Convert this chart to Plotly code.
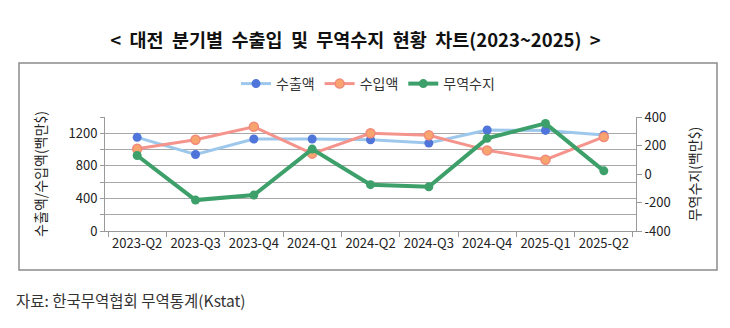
import plotly.graph_objects as go

quarters = ["2023-Q2", "2023-Q3", "2023-Q4", "2024-Q1", "2024-Q2",
            "2024-Q3", "2024-Q4", "2025-Q1", "2025-Q2"]
exports = [1150, 940, 1130, 1130, 1120, 1080, 1240, 1235, 1180]
imports = [1010, 1120, 1280, 950, 1200, 1175, 990, 875, 1155]
balance = [130, -183, -148, 175, -75, -90, 250, 355, 22]

left_ticks = [0, 200, 400, 600, 800, 1000, 1200, 1400]
left_labels = ["0", "", "400", "", "800", "", "1200", ""]
right_ticks = [-400, -200, 0, 200, 400]
right_labels = ["-400", "-200", "0", "200", "400"]

FONT = "Noto Sans CJK KR"
TXT = "#222222"

fig = go.Figure()
fig.add_trace(go.Scatter(
    x=quarters, y=exports, name="수출액", mode="lines+markers",
    line=dict(color="#9DC8EC", width=3),
    marker=dict(color="#4F75DA", size=9)))
fig.add_trace(go.Scatter(
    x=quarters, y=imports, name="수입액", mode="lines+markers",
    line=dict(color="#F4948C", width=3),
    marker=dict(color="#F7A46F", size=9, line=dict(color="#F08A7A", width=1.5))))
fig.add_trace(go.Scatter(
    x=quarters, y=balance, name="무역수지", mode="lines+markers", yaxis="y2",
    line=dict(color="#3DA06A", width=4),
    marker=dict(color="#3DA06A", size=9)))

W, H = 730, 328
L, R, T, B = 105, 94, 117, 97
pw, ph = W - L - R, H - T - B

def px(x):
    return (x - L) / pw

def py(y):
    return (H - B - y) / ph

fig.update_layout(
    width=W, height=H,
    margin=dict(l=L, r=R, t=T, b=B, autoexpand=False),
    paper_bgcolor="white", plot_bgcolor="white",
    font=dict(family=FONT, color=TXT, size=13),
    title=dict(text="<b>&lt;  대전  분기별  수출입  및  무역수지  현황  차트(2023~2025)  &gt;</b>",
               x=0.487, xanchor="center", y=1 - 41 / H, yanchor="middle",
               font=dict(size=18.5, color="#111111", family=FONT)),
    showlegend=True,
    legend=dict(orientation="h", x=px(368), xanchor="center", y=py(84), yanchor="middle",
                font=dict(size=14, color="#333333"), itemwidth=30, tracegroupgap=0,
                bgcolor="rgba(0,0,0,0)"),
    xaxis=dict(type="category", showline=True, linecolor="#9a9a9a", linewidth=1,
               ticks="outside", tickson="boundaries", ticklen=5, tickcolor="#9a9a9a",
               tickangle=0, showgrid=False, tickfont=dict(size=13, color=TXT),
               fixedrange=True),
    yaxis=dict(range=[0, 1400], tickvals=left_ticks, ticktext=left_labels,
               showline=True, linecolor="#9a9a9a", ticks="outside", ticklen=4,
               tickcolor="#9a9a9a", showgrid=True, gridcolor="#a8a8a8", gridwidth=1,
               zeroline=False, tickfont=dict(size=13, color=TXT),
               title=dict(text="수출액/수입액(백만$)", font=dict(size=14, color=TXT), standoff=18)),
    yaxis2=dict(range=[-400, 400], tickvals=right_ticks, ticktext=right_labels,
                overlaying="y", side="right",
                showline=True, linecolor="#9a9a9a", ticks="outside", ticklen=5,
                tickcolor="#9a9a9a", showgrid=False, zeroline=False,
                tickfont=dict(size=13, color=TXT),
                title=dict(text="무역수지(백만$)", font=dict(size=14, color=TXT), standoff=20)),
)

# outer chart border
fig.add_shape(type="rect", xref="paper", yref="paper",
              x0=px(19), x1=px(717), y0=py(270), y1=py(63),
              line=dict(color="#8c8c8c", width=1.5), fillcolor="rgba(0,0,0,0)", layer="below")

fig.add_annotation(text="자료: 한국무역협회 무역통계(Kstat)", xref="paper", yref="paper",
                   x=px(14), xanchor="left", y=py(300), yanchor="middle", showarrow=False,
                   font=dict(size=15.5, color="#333333", family=FONT))

fig.write_html("out.html")
